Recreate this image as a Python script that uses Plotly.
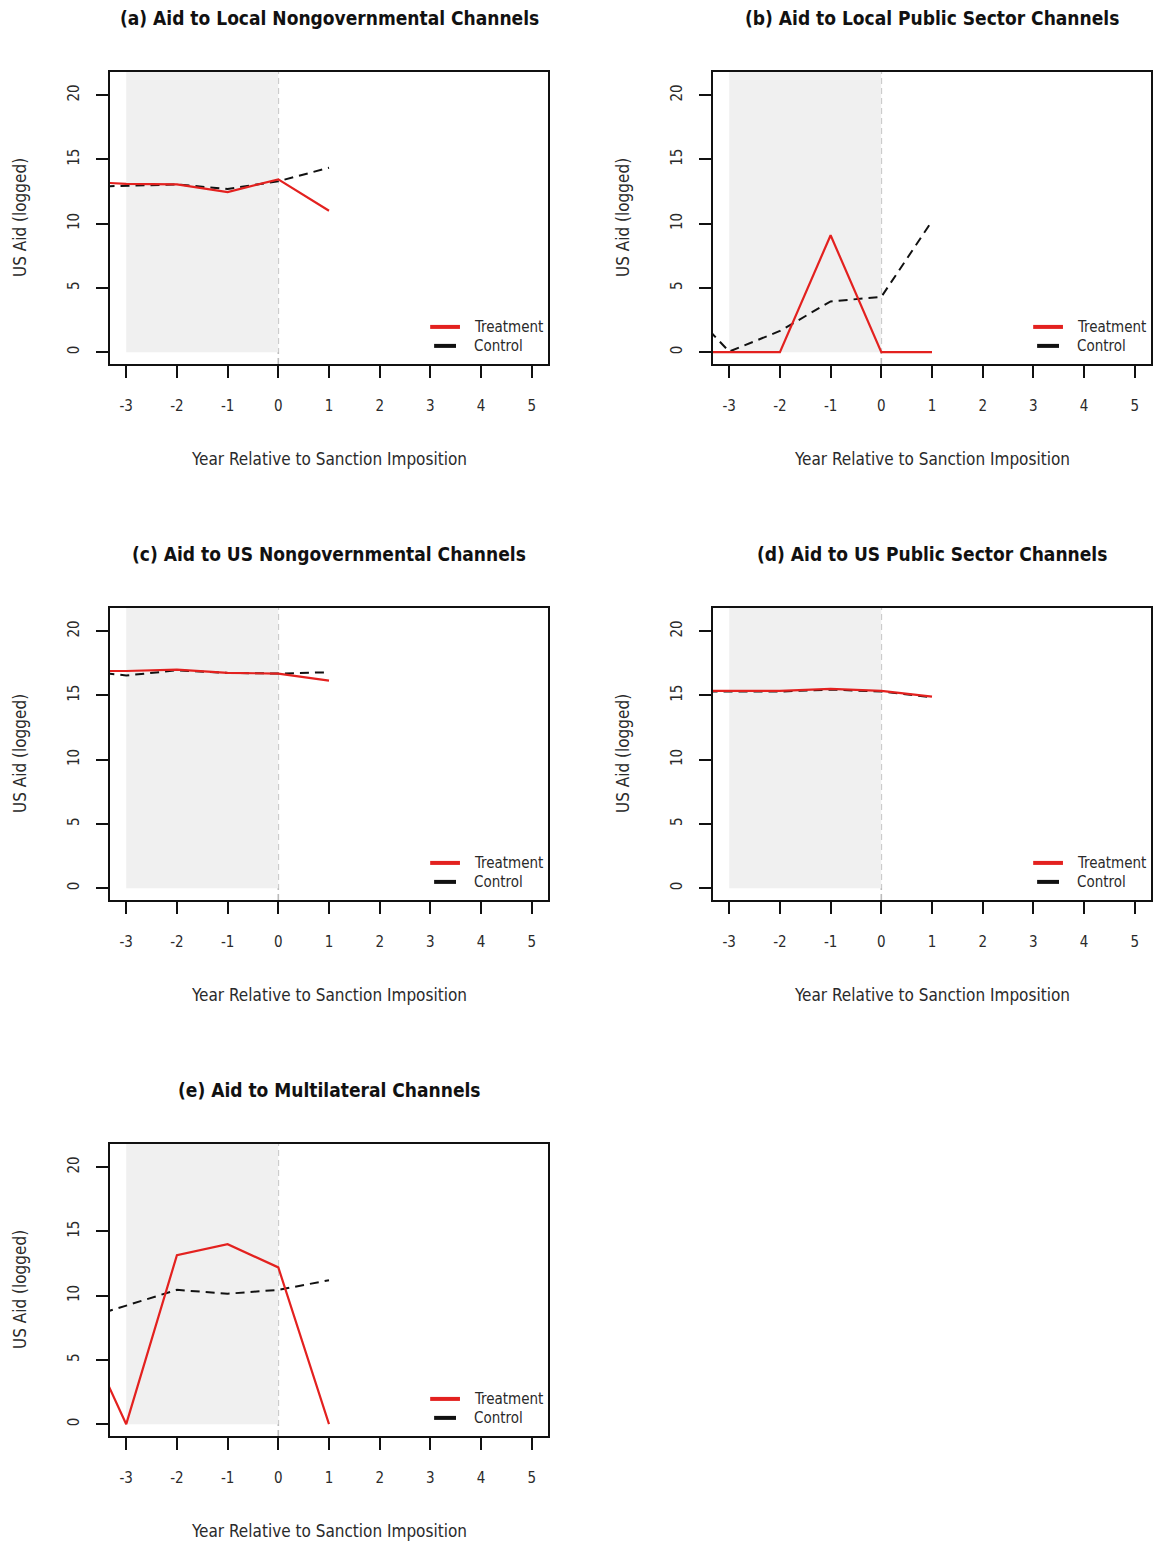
import plotly.graph_objects as go

# Years relative to sanction imposition (the -4 point sits just outside the axis window)
years = [-4, -3, -2, -1, 0, 1]
x_ticks = [-3, -2, -1, 0, 1, 2, 3, 4, 5]
y_ticks = [0, 5, 10, 15, 20]

titles = [
    "(a) Aid to Local Nongovernmental Channels",
    "(b) Aid to Local Public Sector Channels",
    "(c) Aid to US Nongovernmental Channels",
    "(d) Aid to US Public Sector Channels",
    "(e) Aid to Multilateral Channels",
]

treat_a = [13.3, 13.1, 13.05, 12.45, 13.45, 11.0]
ctrl_a = [12.85, 12.95, 13.05, 12.7, 13.3, 14.35]
treat_b = [0.0, 0.0, 0.0, 9.1, 0.0, 0.0]
ctrl_b = [4.2, 0.05, 1.65, 3.95, 4.3, 10.2]
treat_c = [16.9, 16.9, 17.0, 16.75, 16.7, 16.15]
ctrl_c = [16.95, 16.55, 16.95, 16.75, 16.7, 16.8]
treat_d = [15.35, 15.35, 15.35, 15.5, 15.35, 14.9]
ctrl_d = [15.3, 15.3, 15.3, 15.45, 15.3, 14.85]
treat_e = [8.6, 0.0, 13.15, 14.0, 12.2, 0.0]
ctrl_e = [8.0, 9.2, 10.45, 10.15, 10.45, 11.2]

treatment = [treat_a, treat_b, treat_c, treat_d, treat_e]
control = [ctrl_a, ctrl_b, ctrl_c, ctrl_d, ctrl_e]

W, H = 1153, 1545
# panel boxes in pixels: (left, right, top, bottom)
cols = [(110, 548), (713, 1151)]
rows = [(72, 364), (608, 900), (1144, 1436)]
cells = [(0, 0), (0, 1), (1, 0), (1, 1), (2, 0)]

X_RANGE = [-3.32, 5.32]
Y_RANGE = [-0.92, 21.8]

RED = "#e3211f"
BLACK = "#111111"
TEXT = "#2a2a2a"
BASE_FONT = "Liberation Sans Narrow, Arial Narrow, DejaVu Sans Condensed, Liberation Sans, Arial, sans-serif"

fig = go.Figure()
layout = {}
shapes = []
annotations = []


def px_x(p):
    return p / W


def px_y(p):
    return 1 - p / H


for i, (r, c) in enumerate(cells):
    n = "" if i == 0 else str(i + 1)
    xa, ya = "x" + n, "y" + n
    left, right = cols[c]
    top, bottom = rows[r]

    layout["xaxis" + n] = dict(
        domain=[px_x(left), px_x(right)], anchor=ya, range=X_RANGE,
        tickmode="array", tickvals=x_ticks, ticktext=[str(v) for v in x_ticks],
        ticks="outside", ticklen=12, tickwidth=1.5, tickcolor=BLACK,
        showline=True, mirror=True, linecolor=BLACK, linewidth=1.6,
        showgrid=False, zeroline=False, ticklabelstandoff=15,
        tickfont=dict(family=BASE_FONT, size=15, color=TEXT),
    )
    layout["yaxis" + n] = dict(
        domain=[px_y(bottom), px_y(top)], anchor=xa, range=Y_RANGE,
        tickmode="array", tickvals=y_ticks, ticktext=[str(v) for v in y_ticks],
        ticks="outside", ticklen=12, tickwidth=1.5, tickcolor=BLACK, tickangle=-90,
        showline=True, mirror=True, linecolor=BLACK, linewidth=1.6,
        showgrid=False, zeroline=False, ticklabelstandoff=11,
        tickfont=dict(family=BASE_FONT, size=15, color=TEXT),
    )

    # pre-treatment window shading
    shapes.append(dict(type="rect", xref=xa, yref=ya, x0=-3, x1=0, y0=0, y1=Y_RANGE[1],
                       fillcolor="#f0f0f0", line=dict(width=0), layer="below"))
    # sanction imposition marker
    shapes.append(dict(type="line", xref=xa, yref=ya + " domain", x0=0, x1=0, y0=0, y1=1,
                       line=dict(color="#bbbbbb", width=1.6, dash="6px,4px"), layer="below"))

    fig.add_trace(go.Scatter(x=years, y=control[i], mode="lines", xaxis=xa, yaxis=ya,
                             line=dict(color=BLACK, width=2, dash="9px,6px"), showlegend=False))
    fig.add_trace(go.Scatter(x=years, y=treatment[i], mode="lines", xaxis=xa, yaxis=ya,
                             line=dict(color=RED, width=2.2), showlegend=False))

    # in-panel legend
    shapes.append(dict(type="line", xref=xa + " domain", yref=ya + " domain",
                       x0=0.731, x1=0.799, y0=0.127, y1=0.127, line=dict(color=RED, width=4)))
    shapes.append(dict(type="line", xref=xa + " domain", yref=ya + " domain",
                       x0=0.740, x1=0.790, y0=0.062, y1=0.062, line=dict(color=BLACK, width=4)))
    for label, yy in (("Treatment", 0.127), ("Control", 0.062)):
        annotations.append(dict(text=label, xref=xa + " domain", yref=ya + " domain",
                                x=0.826, y=yy, xanchor="left", yanchor="middle", showarrow=False,
                                font=dict(family=BASE_FONT, size=15, color=TEXT)))

    cx = (left + right) / 2
    # panel title
    annotations.append(dict(text="<b>" + titles[i] + "</b>", xref="paper", yref="paper",
                            x=px_x(cx), y=px_y(top - 54), xanchor="center", yanchor="middle",
                            showarrow=False, font=dict(family=BASE_FONT, size=19, color="#111111")))
    # x-axis title
    annotations.append(dict(text="Year Relative to Sanction Imposition", xref="paper", yref="paper",
                            x=px_x(cx), y=px_y(bottom + 95), xanchor="center", yanchor="middle",
                            showarrow=False, font=dict(family=BASE_FONT, size=17, color=TEXT)))
    # y-axis title
    annotations.append(dict(text="US Aid (logged)", xref="paper", yref="paper", textangle=-90,
                            x=px_x(left - 90), y=px_y((top + bottom) / 2), xanchor="center",
                            yanchor="middle", showarrow=False,
                            font=dict(family=BASE_FONT, size=17, color=TEXT)))

fig.update_layout(
    width=W, height=H, margin=dict(l=0, r=0, t=0, b=0),
    paper_bgcolor="white", plot_bgcolor="white",
    shapes=shapes, annotations=annotations, showlegend=False,
    **layout,
)

fig.write_html("out.html")
